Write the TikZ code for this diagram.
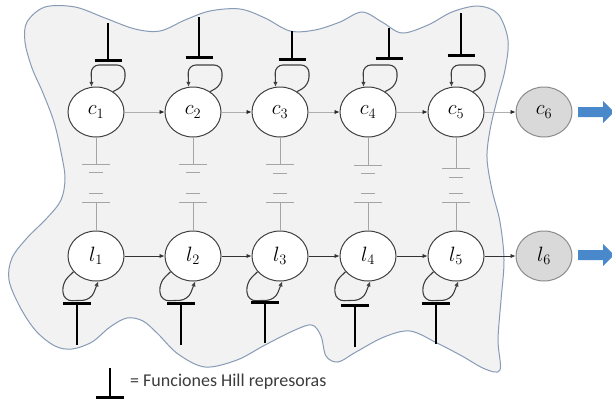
\documentclass[tikz,border=0pt]{standalone}
\usepackage{fontspec}
\setmainfont{Carlito}
\usetikzlibrary{shapes.geometric,arrows.meta,calc}
\definecolor{blobfill}{RGB}{242,242,242}
\definecolor{blobline}{RGB}{135,155,182}
\definecolor{nodeline}{RGB}{64,64,64}
\definecolor{capgray}{RGB}{165,165,165}
\definecolor{edgegray}{RGB}{175,175,175}
\definecolor{outfill}{RGB}{217,217,217}
\definecolor{outgray}{RGB}{140,140,140}
\definecolor{bluearrow}{RGB}{74,136,204}
\definecolor{legendtext}{RGB}{60,60,60}
\newcommand\cloop[1]{\draw[selfloop] (#1.50) -- ($(#1)+(29,-27)$) -- ($(#1)+(29,-47)$) -- ($(#1)+(-5,-47)$) -- (#1.100);}
\newcommand\lloop[1]{\draw[selfloop] (#1.-145) -- ($(#1)+(-34,27)$) -- ($(#1)+(-32,45)$) -- ($(#1)+(-5,44)$) -- (#1.-85);}
\newcommand\capsym[4]{%
  \draw[capline] (#1.south) -- ($(#1)+(0,#3)$);
  \draw[capline] ($(#1)+(-14,#3)$) -- ($(#1)+(14,#3)$);
  \draw[capline] ($(#1)+(-7,#4)$) -- ($(#1)+(7,#4)$);
  \draw[capline] ($(#1)+(-7,81)$) -- ($(#1)+(7,81)$);
  \draw[capline] ($(#1)+(-14,90)$) -- ($(#1)+(14,90)$);
  \draw[capline] ($(#1)+(0,90)$) -- (#2.north);}
\newcommand\topT[3]{%
  \draw[inhibstem] (#1,#2) -- (#1,#3);
  \draw[inhibbar] (#1-13.5,#3) -- (#1+13.5,#3);}
\newcommand\botT[3]{%
  \draw[inhibstem] (#1,#3) -- (#1,#2);
  \draw[inhibbar] (#1-14,#2) -- (#1+14,#2);}
\begin{document}
\begin{tikzpicture}[x=1pt,y=-1pt,
  gene/.style={ellipse,draw=nodeline,line width=1pt,fill=white,minimum width=56pt,minimum height=50pt,inner sep=0pt,font=\fontsize{21}{24}\selectfont},
  outnode/.style={gene,fill=outfill,draw=outgray},
  cedge/.style={draw=edgegray,line width=0.9pt,-{Latex[length=5pt,width=4.5pt,color=black!85]}},
  ledge/.style={draw=black!80,line width=0.9pt,-{Latex[length=5pt,width=4.5pt]}},
  selfloop/.style={draw=nodeline,line width=1.1pt,rounded corners=8pt,-{Latex[length=5pt,width=4.5pt]}},
  capline/.style={draw=capgray,line width=1pt},
  inhibstem/.style={draw=black,line width=2.4pt},
  inhibbar/.style={draw=black,line width=3pt},
  bigarrow/.style={fill=bluearrow,draw=none}]
\useasboundingbox (0,0) rectangle (612,405);
\clip (0,0) rectangle (612,405);
\fill[white] (0,0) rectangle (612,405);
% blob
\draw[fill=blobfill,draw=blobline,line width=1pt] plot[smooth cycle,tension=0.55] coordinates {
 (27,22) (45,7) (75,7) (105,18) (135,29) (160,31) (185,20) (210,11) (240,9) (265,18)
 (290,31) (315,30) (340,22) (362,12) (382,22) (402,33) (428,25) (452,12) (478,6) (498,14)
 (508,40) (505,70) (497,100) (490,130) (487,158) (492,190) (500,222) (504,260) (501,300)
 (498,340) (500,370) (485,369) (462,356) (437,343) (410,331) (384,337) (356,352) (338,362)
 (326,356) (321,336) (312,325) (295,330) (265,345) (237,360) (205,367) (178,354) (158,334)
 (143,321) (127,318) (110,327) (92,342) (72,349) (55,346) (36,331) (20,307) (9,280)
 (12,258) (27,238) (47,218) (61,200) (65,178) (61,152) (54,122) (43,93) (32,68) (25,42)};
% nodes
\node[gene] (c1) at (96,112) {$c_1$};
\node[gene] (c2) at (193,112) {$c_2$};
\node[gene] (c3) at (280,112) {$c_3$};
\node[gene] (c4) at (368,112) {$c_4$};
\node[gene] (c5) at (456,112) {$c_5$};
\node[outnode] (c6) at (544,112) {$c_6$};
\node[gene] (l1) at (96,256) {$l_1$};
\node[gene] (l2) at (193,256) {$l_2$};
\node[gene] (l3) at (280,256) {$l_3$};
\node[gene] (l4) at (368,256) {$l_4$};
\node[gene] (l5) at (456,256) {$l_5$};
\node[outnode] (l6) at (544,256) {$l_6$};
% capacitor-like couplings
\capsym{c1}{l1}{52}{60}
\capsym{c2}{l2}{52}{60}
\capsym{c3}{l3}{52}{61}
\capsym{c4}{l4}{53}{61}
\capsym{c5}{l5}{56}{65}
% chain edges
\draw[cedge] (c1) -- (c2);
\draw[cedge] (c2) -- (c3);
\draw[cedge] (c3) -- (c4);
\draw[cedge] (c4) -- (c5);
\draw[cedge] (c5) -- (c6);
\draw[ledge] (l1) -- (l2);
\draw[ledge] (l2) -- (l3);
\draw[ledge] (l3) -- (l4);
\draw[ledge] (l4) -- (l5);
\draw[ledge] (l5) -- (l6);
% self loops
\cloop{c1}\cloop{c2}\cloop{c3}\cloop{c4}\cloop{c5}
\lloop{l1}\lloop{l2}\lloop{l3}\lloop{l4}\lloop{l5}
% repressor symbols
\topT{108}{23}{60}
\topT{199}{17}{57}
\topT{292}{31}{59}
\topT{389}{28}{58}
\topT{461}{13}{55}
\botT{77}{303}{345}
\botT{181}{303}{345}
\botT{265}{302}{343}
\botT{355}{305}{347}
\botT{436}{303}{344}
% output arrows
\fill[bigarrow] (578,107) -- (603,107) -- (603,101) -- (614,112) -- (603,123) -- (603,117) -- (578,117) -- cycle;
\fill[bigarrow] (578,250) -- (603,250) -- (603,244) -- (614,255) -- (603,266) -- (603,260) -- (578,260) -- cycle;
% legend
\draw[inhibstem] (110,368) -- (110,397);
\draw[inhibbar] (96,397) -- (124,397);
\node[anchor=west,inner sep=0pt,text=legendtext,font=\fontsize{18}{20}\selectfont] (leg) at (130,382) {= Funciones Hill represoras};
\end{tikzpicture}
\end{document}
